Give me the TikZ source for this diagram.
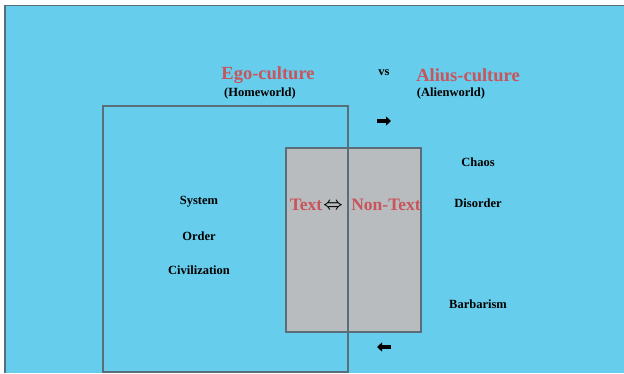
\documentclass[tikz,border=0pt]{standalone}
\usepackage{fontspec}
\setmainfont{Liberation Serif}
\usetikzlibrary{arrows.meta}
\definecolor{bg}{HTML}{66CDEC}
\definecolor{frame}{HTML}{5A6E7A}
\definecolor{boxgray}{HTML}{B8BCBE}
\definecolor{redtxt}{HTML}{C9545C}
\tikzset{
  x=1pt, y=-1pt,
  title/.style={font=\fontsize{18.5}{20}\selectfont\bfseries, text=redtxt, inner sep=0pt},
  sub/.style={font=\fontsize{12.5}{14}\selectfont\bfseries, text=black, inner sep=0pt},
  word/.style={font=\fontsize{12.5}{14}\selectfont\bfseries, text=black, inner sep=0pt},
  inner/.style={font=\fontsize{17.5}{19}\selectfont\bfseries, text=redtxt, inner sep=0pt},
  blockarrow/.style={line width=3.2pt, -{Triangle[length=5pt,width=9pt]}, black},
}
\begin{document}
\begin{tikzpicture}
\useasboundingbox (0,0) rectangle (624,373);
\fill[white] (0,0) rectangle (624,373);
\fill[bg] (5,5) rectangle (624,373);
\draw[frame, line width=1.6pt] (5,373) -- (5,5.5) -- (624,5.5);
% gray text box
\node[draw=frame, line width=1.2pt, fill=boxgray, minimum width=135pt, minimum height=184pt, inner sep=0pt] (textbox) at (353.5,240) {};
% ego rectangle
\node[draw=frame, line width=1.2pt, minimum width=245pt, minimum height=266pt, inner sep=0pt] (ego) at (225.5,239) {};
% titles
\node[title] (egot) at (268,75) {Ego-culture};
\node[sub] (home) at (260,93) {(Homeworld)};
\node[sub] (vs) at (384,73) {vs};
\node[title] (aliust) at (468,75) {Alius-culture};
\node[sub] (alien) at (451,93) {(Alienworld)};
% arrows
\coordinate (ra1) at (377,121); \coordinate (ra2) at (391,121);
\coordinate (la1) at (391,347); \coordinate (la2) at (377,347);
\draw[blockarrow] (ra1) -- (ra2);
\draw[blockarrow] (la1) -- (la2);
% left words
\node[word] (system) at (199,202) {System};
\node[word] (order) at (199,236) {Order};
\node[word] (civ) at (199,270) {Civilization};
% right words
\node[word] (chaos) at (478,162) {Chaos};
\node[word] (disorder) at (478,203) {Disorder};
\node[word] (barb) at (478,304) {Barbarism};
% text / non-text
\node[inner] (text) at (306,205) {Text};
\node[inner sep=0pt, font=\fontsize{17}{19}\selectfont\boldmath] (dbl) at (333,206) {$\Leftrightarrow$};
\node[inner] (nontext) at (386,205) {Non-Text};
\end{tikzpicture}
\end{document}
